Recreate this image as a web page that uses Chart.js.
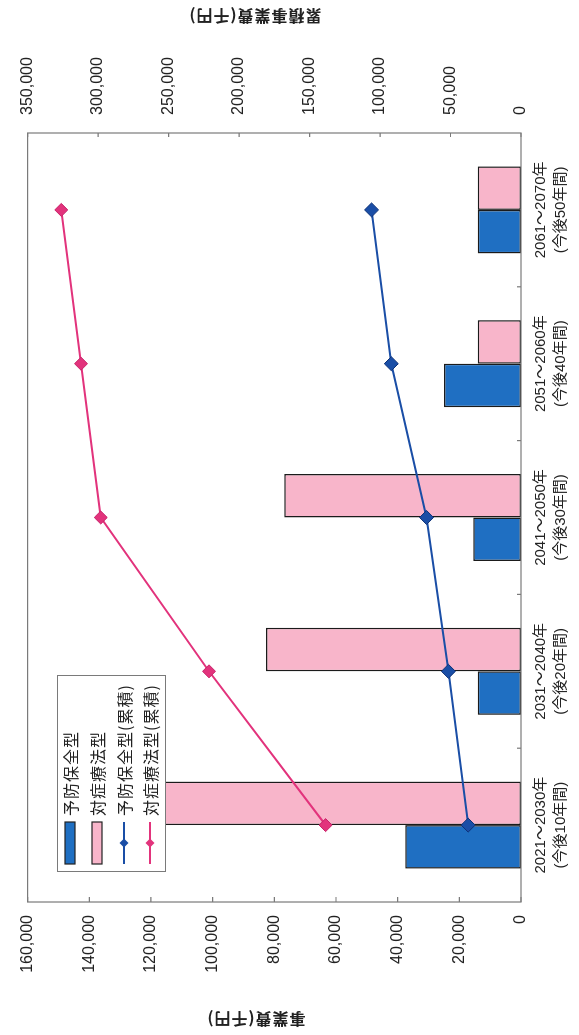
<!DOCTYPE html>
<html lang="ja">
<head>
<meta charset="utf-8">
<title>予防保全型と対症療法型の事業費</title>
<script src="https://cdn.jsdelivr.net/npm/chart.js@4.4.1/dist/chart.umd.min.js"></script>
<style>
  html, body { margin: 0; padding: 0; background: #fff; overflow: hidden; }
  body { width: 579px; height: 1035px; position: relative; }
  /* the chart is laid out landscape and turned a quarter turn to the left */
  .turned {
    position: absolute; left: 0; top: 0;
    width: 1035px; height: 579px;
    transform-origin: 0 0;
    transform: translateY(1035px) rotate(-90deg);
  }
  canvas { display: block; }
</style>
</head>
<body>
<div class="turned"><canvas id="chart" width="1035" height="579"></canvas></div>
<script>
// Data
const categories = [
    ["2021～2030年", "(今後10年間)"],
    ["2031～2040年", "(今後20年間)"],
    ["2041～2050年", "(今後30年間)"],
    ["2051～2060年", "(今後40年間)"],
    ["2061～2070年", "(今後50年間)"]
];
const preventive = [37500, 14000, 15500, 25000, 14000];
const symptomatic = [138600, 82700, 76800, 14000, 14000];
const preventiveTotal = [37500, 51500, 67000, 92000, 106000];
const symptomaticTotal = [138600, 221300, 298100, 312100, 326100];
const costTicks = [0, 20000, 40000, 60000, 80000, 100000, 120000, 140000, 160000];
const totalTicks = [0, 50000, 100000, 150000, 200000, 250000, 300000, 350000];

const latin = "'Liberation Sans', Arial, 'Noto Sans CJK JP', sans-serif";
const jp = "'Noto Sans CJK JP', 'Liberation Sans', sans-serif";
const ink = '#222';

Chart.defaults.font.family = latin;
Chart.defaults.color = ink;

// frame and inward tick marks
const frame = {
    id: 'frame',
    afterDatasetsDraw(chart) {
        const {ctx, chartArea: a, scales} = chart;
        ctx.save();
        ctx.strokeStyle = '#7a7a7a';
        ctx.lineWidth = 1.2;
        ctx.beginPath();
        scales.y.ticks.forEach(t => {
            const p = scales.y.getPixelForValue(t.value);
            ctx.moveTo(a.left, p);
            ctx.lineTo(a.left + 5, p);
        });
        scales.y2.ticks.forEach(t => {
            const p = scales.y2.getPixelForValue(t.value);
            ctx.moveTo(a.right, p);
            ctx.lineTo(a.right - 4, p);
        });
        for (let i = 0; i < categories.length - 1; i++) {
            const p = (scales.x.getPixelForTick(i) + scales.x.getPixelForTick(i + 1)) / 2;
            ctx.moveTo(p, a.bottom);
            ctx.lineTo(p, a.bottom - 4);
        }
        ctx.stroke();
        ctx.strokeRect(a.left, a.top, a.right - a.left, a.bottom - a.top);
        ctx.restore();
    }
};

// axis titles, both read bottom to top
const axisTitles = {
    id: 'axisTitles',
    afterDraw(chart) {
        const ctx = chart.ctx;
        ctx.save();
        ctx.fillStyle = ink;
        ctx.font = "bold 16px " + jp;
        ctx.letterSpacing = '1px';
        ctx.textAlign = 'center';
        ctx.textBaseline = 'middle';
        [["事業費(千円)", 16, 256], ["累積事業費(千円)", 1019, 255]].forEach(([text, x, y]) => {
            ctx.save();
            ctx.translate(x, y);
            ctx.rotate(-Math.PI / 2);
            ctx.fillText(text, 0, 0);
            ctx.restore();
        });
        ctx.restore();
    }
};

// legend box inside the plot
const boxLegend = {
    id: 'boxLegend',
    afterDraw(chart) {
        const ctx = chart.ctx;
        const rows = [70, 97, 124, 150];
        ctx.save();
        ctx.fillStyle = '#fff';
        ctx.fillRect(163, 57, 196, 108);
        ctx.strokeStyle = '#7a7a7a';
        ctx.lineWidth = 1;
        ctx.strokeRect(163.5, 57.5, 196, 108);
        chart.data.datasets.forEach((ds, i) => {
            const y = rows[i];
            if (ds.type === 'line') {
                ctx.strokeStyle = ds.borderColor;
                ctx.lineWidth = 2;
                ctx.beginPath();
                ctx.moveTo(171, y);
                ctx.lineTo(213, y);
                ctx.stroke();
                ctx.fillStyle = ds.pointBackgroundColor;
                ctx.beginPath();
                ctx.moveTo(192, y - 4.5);
                ctx.lineTo(196.5, y);
                ctx.lineTo(192, y + 4.5);
                ctx.lineTo(187.5, y);
                ctx.closePath();
                ctx.fill();
            } else {
                ctx.fillStyle = ds.backgroundColor;
                ctx.fillRect(171, y - 5, 42, 10);
                ctx.strokeStyle = '#222';
                ctx.lineWidth = 1.2;
                ctx.strokeRect(171, y - 5, 42, 10);
            }
            ctx.fillStyle = ink;
            ctx.font = "16px " + jp;
            ctx.letterSpacing = '1px';
            ctx.textBaseline = 'middle';
            ctx.textAlign = 'left';
            ctx.fillText(ds.label, 219, y + 1);
        });
        ctx.restore();
    }
};

const ctx = document.querySelector("#chart").getContext("2d");

const myChart = new Chart(ctx, {
    type: 'bar',
    data: {
        labels: categories,
        datasets: [
            {
                label: '予防保全型',
                data: preventive,
                backgroundColor: '#1f6fc2',
                borderColor: '#1b1b1b',
                borderWidth: 1.5,
                borderSkipped: false,
                yAxisID: 'y',
                order: 1
            },
            {
                label: '対症療法型',
                data: symptomatic,
                backgroundColor: '#f8b5ca',
                borderColor: '#1b1b1b',
                borderWidth: 1.5,
                borderSkipped: false,
                yAxisID: 'y',
                order: 1
            },
            {
                type: 'line',
                label: '予防保全型(累積)',
                data: preventiveTotal,
                borderColor: '#1a4ea6',
                borderWidth: 2,
                pointStyle: 'rectRot',
                pointRadius: 7,
                pointBackgroundColor: '#1a4ea6',
                pointBorderColor: '#0e3278',
                pointBorderWidth: 1,
                yAxisID: 'y2',
                order: 0
            },
            {
                type: 'line',
                label: '対症療法型(累積)',
                data: symptomaticTotal,
                borderColor: '#e2337c',
                borderWidth: 2,
                pointStyle: 'rectRot',
                pointRadius: 6.5,
                pointBackgroundColor: '#e2337c',
                pointBorderColor: '#c8236a',
                pointBorderWidth: 1,
                yAxisID: 'y2',
                order: 0
            }
        ]
    },
    options: {
        responsive: false,
        devicePixelRatio: 1,
        animation: false,
        events: [],
        layout: {padding: {top: 22, left: 0, right: 0, bottom: 0}},
        datasets: {
            bar: {categoryPercentage: 0.566, barPercentage: 1}
        },
        plugins: {
            legend: {display: false},
            tooltip: {enabled: false}
        },
        scales: {
            x: {
                position: 'bottom',
                offset: true,
                grid: {display: false, drawTicks: false},
                border: {display: false},
                ticks: {
                    autoSkip: false,
                    maxRotation: 0,
                    padding: 10,
                    font: {size: 15, lineHeight: '20px'}
                },
                afterFit: (scale) => { scale.height = 58; }
            },
            y: {
                position: 'left',
                min: costTicks[0],
                max: costTicks[costTicks.length - 1],
                grid: {display: false, drawTicks: false},
                border: {display: false},
                ticks: {
                    stepSize: costTicks[1] - costTicks[0],
                    padding: 13,
                    font: {size: 16}
                },
                afterFit: (scale) => { scale.width = 133; }
            },
            y2: {
                position: 'right',
                min: totalTicks[0],
                max: totalTicks[totalTicks.length - 1],
                grid: {display: false, drawTicks: false},
                border: {display: false},
                ticks: {
                    stepSize: totalTicks[1] - totalTicks[0],
                    padding: 18,
                    font: {size: 16}
                },
                afterFit: (scale) => { scale.width = 133; }
            }
        }
    },
    plugins: [frame, axisTitles, boxLegend]
});
</script>
</body>
</html>
